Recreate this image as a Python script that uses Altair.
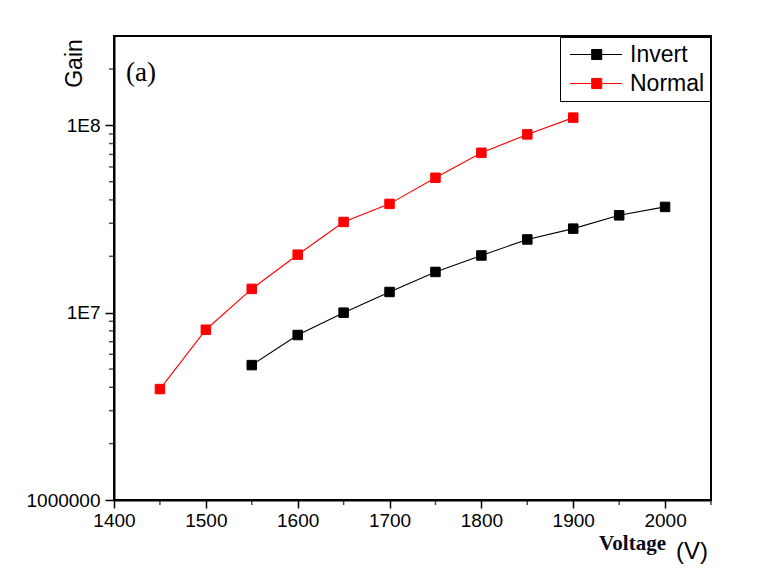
import altair as alt
import pandas as pd

# Data
invert_v = [1550, 1600, 1650, 1700, 1750, 1800, 1850, 1900, 1950, 2000]
invert_gain = [5.25e6, 7.6e6, 1.0e7, 1.29e7, 1.65e7, 2.02e7, 2.46e7, 2.81e7, 3.31e7, 3.67e7]
normal_v = [1450, 1500, 1550, 1600, 1650, 1700, 1750, 1800, 1850, 1900]
normal_gain = [3.91e6, 8.11e6, 1.34e7, 2.04e7, 3.05e7, 3.81e7, 5.25e7, 7.14e7, 8.95e7, 1.10e8]
series_names = ["Invert", "Normal"]
series_colors = ["#000000", "#ff0000"]

x_major = [1400, 1500, 1600, 1700, 1800, 1900, 2000]
x_minor = [1450, 1550, 1650, 1750, 1850, 1950, 2050]
y_major = [1e6, 1e7, 1e8]
y_minor = [2e6, 3e6, 4e6, 5e6, 6e6, 7e6, 8e6, 9e6,
           2e7, 3e7, 4e7, 5e7, 6e7, 7e7, 8e7, 9e7,
           2e8]

df = pd.concat([
    pd.DataFrame({"Voltage": invert_v, "Gain": invert_gain, "Series": "Invert"}),
    pd.DataFrame({"Voltage": normal_v, "Gain": normal_gain, "Series": "Normal"}),
], ignore_index=True)

FONT = "Liberation Sans"
xscale = alt.Scale(domain=[1400, 2050], nice=False, zero=False)
yscale = alt.Scale(type="log", domain=[1e6, 3e8], nice=False)
cscale = alt.Scale(domain=series_names, range=series_colors)

x_axis = alt.Axis(orient="bottom", values=x_major, grid=False, title="Voltage", format="d",
                  labelFont=FONT, labelFontSize=19, labelColor="black",
                  labelFlush=False, labelOverlap=False, labelPadding=3,
                  ticks=True, tickSize=8, tickColor="black", tickWidth=1.5,
                  domainColor="black", domainWidth=2,
                  titleFont="Liberation Serif", titleFontWeight="bold",
                  titleFontSize=21, titleColor="#0a0a1e",
                  titleX=518, titleY=43, titleAlign="center", titleBaseline="middle")
y_axis = alt.Axis(orient="left", values=y_major, grid=False, title="Gain",
                  labelExpr="datum.value == 1e6 ? '1000000' : (datum.value == 1e7 ? '1E7' : '1E8')",
                  labelFont=FONT, labelFontSize=19, labelColor="black",
                  labelFlush=False, labelOverlap=False, labelPadding=5,
                  ticks=True, tickSize=9, tickColor="black", tickWidth=1.5,
                  domainColor="black", domainWidth=2,
                  titleFont=FONT, titleFontSize=23, titleColor="black", titleFontWeight="normal",
                  titleX=-40, titleY=27, titleAlign="center", titleBaseline="middle")

x_enc = alt.X("Voltage:Q", scale=xscale, axis=x_axis)
y_enc = alt.Y("Gain:Q", scale=yscale, axis=y_axis)

legend_a = alt.Legend(
    title=None, orient="none", legendX=446, legendY=1,
    padding=8, strokeColor="black", fillColor="white",
    labelFont=FONT, labelFontSize=23, labelColor="black", labelOffset=8,
    symbolType="square", symbolSize=100, rowPadding=6,
)
legend_b = alt.Legend(
    title=None, orient="none", legendX=446, legendY=1,
    padding=5, strokeColor="black", fillColor="white",
    labelFont=FONT, labelFontSize=23, labelColor="black", labelOffset=40,
    symbolType="M-0.625,0L1.18,0M2.02,0L3.71,0M1.18,-0.42L2.02,-0.42L2.02,0.42L1.18,0.42Z",
    symbolSize=576, symbolStrokeWidth=1, rowPadding=4,
)

lines = alt.Chart(df).mark_line(strokeWidth=1.1).encode(
    x=x_enc, y=y_enc,
    color=alt.Color("Series:N", scale=cscale, legend=legend_b),
    detail="Series:N",
)

points = alt.Chart(df).mark_point(shape="square", filled=True, size=90, opacity=1, strokeWidth=1).encode(
    x=x_enc, y=y_enc,
    fill=alt.Fill("Series:N", scale=cscale, legend=legend_a),
    stroke=alt.Stroke("Series:N", scale=cscale, legend=legend_a),
)

# minor axis ticks (short), positioned through the axis scales
x_minor_ticks = alt.Chart(pd.DataFrame({"Voltage": x_minor})).mark_tick(
    color="black", thickness=1.5, size=5, orient="vertical"
).encode(x=x_enc, y=alt.value(466.5))

y_minor_ticks = alt.Chart(pd.DataFrame({"Gain": y_minor})).mark_tick(
    color="black", thickness=1.5, size=5, orient="horizontal"
).encode(y=y_enc, x=alt.value(-2.5))

label_a = alt.Chart(pd.DataFrame({"t": ["(a)"]})).mark_text(
    font="Liberation Serif", fontSize=27, color="black", align="center", baseline="middle"
).encode(text="t:N", x=alt.value(27), y=alt.value(37))

label_v = alt.Chart(pd.DataFrame({"t": ["(V)"]})).mark_text(
    font=FONT, fontSize=24, color="black", align="center", baseline="middle"
).encode(text="t:N", x=alt.value(578), y=alt.value(516))

chart = alt.layer(lines, points, x_minor_ticks, y_minor_ticks, label_a, label_v).properties(
    width=597, height=464,
    autosize="none",
    padding={"left": 106, "top": 28, "right": 63, "bottom": 76},
    background="white",
).configure_view(stroke="black", strokeWidth=2)

chart.save("out.html", embed_options={"renderer": "svg", "actions": False})
